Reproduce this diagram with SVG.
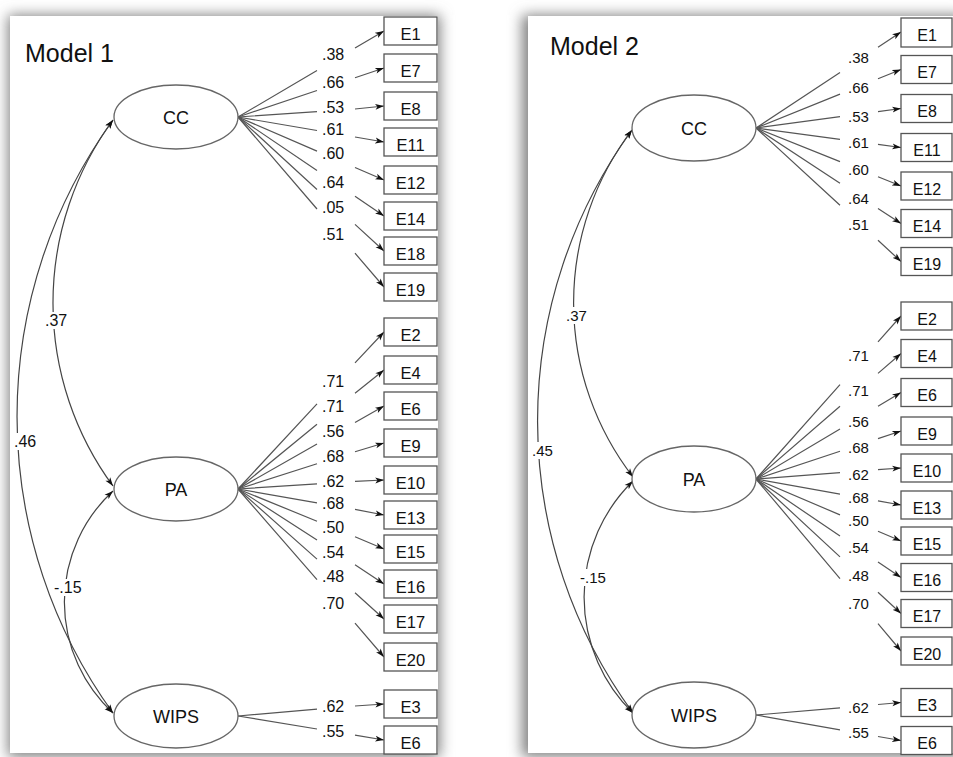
<svg xmlns="http://www.w3.org/2000/svg" width="953" height="757" viewBox="0 0 953 757">
<style>
text{font-family:"Liberation Sans",Arial,sans-serif;fill:#111}
.title{font-size:25px}
.lbl{font-size:16px}
.lbl2{font-size:15px}
.nm{font-size:18px;text-anchor:middle}
.bx{font-size:16.5px;text-anchor:middle}
.bx2{font-size:16px;text-anchor:middle}
.lat{fill:#fff;stroke:#666;stroke-width:1.3}
.obs{fill:#fff;stroke:#555;stroke-width:1.3}
.ln{fill:none;stroke:#555;stroke-width:1.2;marker-end:url(#ah)}
.cv{fill:none;stroke:#444;stroke-width:1.2;marker-start:url(#ah);marker-end:url(#ah)}
.bg{fill:#fff}
</style>
<defs>
<marker id="ah" viewBox="0 0 10 8" refX="10" refY="4" markerWidth="9" markerHeight="7" markerUnits="userSpaceOnUse" orient="auto-start-reverse">
<path d="M0,0.6 L10,4 L0,7.4 L2.5,4 z" fill="#111"/>
</marker>
<filter id="sh" x="-10%" y="-10%" width="120%" height="120%">
<feGaussianBlur stdDeviation="7"/>
</filter>
</defs>
<rect x="0" y="0" width="953" height="757" fill="#fff"/>
<!-- panels -->
<g id="panel1">
<rect x="8" y="15" width="432" height="742" fill="#808080" filter="url(#sh)"/>
<rect x="10" y="16" width="428" height="737" fill="#fff"/>
</g>
<g id="panel2">
<rect x="522" y="15" width="442" height="742" fill="#808080" filter="url(#sh)"/>
<rect x="528" y="16" width="430" height="737" fill="#fff"/>
</g>

<!-- ================= MODEL 1 ================= -->
<text class="title" x="25" y="62">Model 1</text>
<g id="m1-connectors">
<path class="ln" d="M238,117 L317,70.5 M355,48.1 L384,31"/>
<path class="ln" d="M238,117 L317,90.5 M355,77.7 L384,68"/>
<path class="ln" d="M238,117 L317,111.6 M355,109 L384,106"/>
<path class="ln" d="M238,117 L317,130.5 M355,137 L384,142"/>
<path class="ln" d="M238,117 L317,151.1 M355,167.5 L384,180"/>
<path class="ln" d="M238,117 L317,170.6 M355,196.3 L384,216"/>
<path class="ln" d="M238,117 L317,189.5 M355,224.4 L384,251"/>
<path class="ln" d="M238,117 L317,209 M355,253.2 L384,287"/>
<path class="ln" d="M238,489 L317,403.8 M355,362.8 L384,332"/>
<path class="ln" d="M238,489 L317,424.3 M355,393.2 L384,370"/>
<path class="ln" d="M238,489 L317,444.1 M355,422.5 L384,406"/>
<path class="ln" d="M238,489 L317,463.8 M355,451.7 L384,443"/>
<path class="ln" d="M238,489 L317,483.9 M355,481.4 L384,480"/>
<path class="ln" d="M238,489 L317,502.8 M355,509.4 L384,515"/>
<path class="ln" d="M238,489 L317,521.2 M355,536.7 L384,549"/>
<path class="ln" d="M238,489 L317,540.1 M355,564.7 L384,584"/>
<path class="ln" d="M238,489 L317,559.1 M355,592.8 L384,619"/>
<path class="ln" d="M238,489 L317,579.6 M355,623.2 L384,657"/>
<path class="ln" d="M238,716 L317,709.2 M355,706 L384,704"/>
<path class="ln" d="M238,716 L317,729 M355,735.2 L384,740"/>
<path class="cv" d="M113,120 A309,309 0 0,0 113,486"/>
<path class="cv" d="M113,120 A506,506 0 0,0 113,713"/>
<path class="cv" d="M113,491 A151,151 0 0,0 113,713"/>
<rect class="bg" x="44" y="312" width="25" height="17"/>
<rect class="bg" x="13" y="433" width="26" height="17"/>
<rect class="bg" x="53" y="579" width="31" height="17"/>
<text class="lbl" x="45" y="326">.37</text>
<text class="lbl" x="14" y="447">.46</text>
<text class="lbl" x="54" y="593">-.15</text>
</g>
<g id="m1-loadings">
<text class="lbl" x="322" y="60">.38</text>
<text class="lbl" x="322" y="88">.66</text>
<text class="lbl" x="322" y="113">.53</text>
<text class="lbl" x="322" y="135">.61</text>
<text class="lbl" x="322" y="159">.60</text>
<text class="lbl" x="322" y="188">.64</text>
<text class="lbl" x="322" y="213">.05</text>
<text class="lbl" x="322" y="240">.51</text>
<text class="lbl" x="322" y="387">.71</text>
<text class="lbl" x="322" y="412">.71</text>
<text class="lbl" x="322" y="437">.56</text>
<text class="lbl" x="322" y="462">.68</text>
<text class="lbl" x="322" y="487">.62</text>
<text class="lbl" x="322" y="509">.68</text>
<text class="lbl" x="322" y="533">.50</text>
<text class="lbl" x="322" y="558">.54</text>
<text class="lbl" x="322" y="582">.48</text>
<text class="lbl" x="322" y="609">.70</text>
<text class="lbl" x="322" y="712">.62</text>
<text class="lbl" x="322" y="737">.55</text>
</g>
<g id="m1-CC"><ellipse class="lat" cx="176" cy="117" rx="62" ry="32"/><text class="nm" x="176" y="124">CC</text></g>
<g id="m1-PA"><ellipse class="lat" cx="176" cy="489" rx="62" ry="32"/><text class="nm" x="176" y="496">PA</text></g>
<g id="m1-WIPS"><ellipse class="lat" cx="176" cy="716" rx="62" ry="32"/><text class="nm" x="176" y="723">WIPS</text></g>
<g id="m1-E1"><rect class="obs" x="384" y="17" width="53" height="28"/><text class="bx" x="410.5" y="39.5">E1</text></g>
<g id="m1-E7"><rect class="obs" x="384" y="54" width="53" height="28"/><text class="bx" x="410.5" y="76.5">E7</text></g>
<g id="m1-E8"><rect class="obs" x="384" y="92" width="53" height="28"/><text class="bx" x="410.5" y="114.5">E8</text></g>
<g id="m1-E11"><rect class="obs" x="384" y="128" width="53" height="28"/><text class="bx" x="410.5" y="150.5">E11</text></g>
<g id="m1-E12"><rect class="obs" x="384" y="166" width="53" height="28"/><text class="bx" x="410.5" y="188.5">E12</text></g>
<g id="m1-E14"><rect class="obs" x="384" y="202" width="53" height="28"/><text class="bx" x="410.5" y="224.5">E14</text></g>
<g id="m1-E18"><rect class="obs" x="384" y="237" width="53" height="28"/><text class="bx" x="410.5" y="259.5">E18</text></g>
<g id="m1-E19"><rect class="obs" x="384" y="273" width="53" height="28"/><text class="bx" x="410.5" y="295.5">E19</text></g>
<g id="m1-E2"><rect class="obs" x="384" y="318" width="53" height="28"/><text class="bx" x="410.5" y="340.5">E2</text></g>
<g id="m1-E4"><rect class="obs" x="384" y="356" width="53" height="28"/><text class="bx" x="410.5" y="378.5">E4</text></g>
<g id="m1-E6a"><rect class="obs" x="384" y="392" width="53" height="28"/><text class="bx" x="410.5" y="414.5">E6</text></g>
<g id="m1-E9"><rect class="obs" x="384" y="429" width="53" height="28"/><text class="bx" x="410.5" y="451.5">E9</text></g>
<g id="m1-E10"><rect class="obs" x="384" y="466" width="53" height="28"/><text class="bx" x="410.5" y="488.5">E10</text></g>
<g id="m1-E13"><rect class="obs" x="384" y="501" width="53" height="28"/><text class="bx" x="410.5" y="523.5">E13</text></g>
<g id="m1-E15"><rect class="obs" x="384" y="535" width="53" height="28"/><text class="bx" x="410.5" y="557.5">E15</text></g>
<g id="m1-E16"><rect class="obs" x="384" y="570" width="53" height="28"/><text class="bx" x="410.5" y="592.5">E16</text></g>
<g id="m1-E17"><rect class="obs" x="384" y="605" width="53" height="28"/><text class="bx" x="410.5" y="627.5">E17</text></g>
<g id="m1-E20"><rect class="obs" x="384" y="643" width="53" height="28"/><text class="bx" x="410.5" y="665.5">E20</text></g>
<g id="m1-E3"><rect class="obs" x="384" y="690" width="53" height="28"/><text class="bx" x="410.5" y="712.5">E3</text></g>
<g id="m1-E6b"><rect class="obs" x="384" y="726" width="53" height="28"/><text class="bx" x="410.5" y="748.5">E6</text></g>

<!-- ================= MODEL 2 ================= -->
<text class="title" x="550" y="55">Model 2</text>
<g id="m2-connectors">
<path class="ln" d="M756,128 L840,72.4 M878,47.2 L901,32"/>
<path class="ln" d="M756,128 L840,94.1 M878,78.8 L901,69.5"/>
<path class="ln" d="M756,128 L840,116.7 M878,111.6 L901,108.5"/>
<path class="ln" d="M756,128 L840,139.3 M878,144.4 L901,147.5"/>
<path class="ln" d="M756,128 L840,161.6 M878,176.8 L901,186"/>
<path class="ln" d="M756,128 L840,183.3 M878,208.4 L901,223.5"/>
<path class="ln" d="M756,128 L840,205.3 M878,240.3 L901,261.5"/>
<path class="ln" d="M756,479 L840,384.6 M878,341.9 L901,316"/>
<path class="ln" d="M756,479 L840,406.3 M878,373.4 L901,353.5"/>
<path class="ln" d="M756,479 L840,428.9 M878,406.2 L901,392.5"/>
<path class="ln" d="M756,479 L840,451.2 M878,438.6 L901,431"/>
<path class="ln" d="M756,479 L840,472.6 M878,469.7 L901,468"/>
<path class="ln" d="M756,479 L840,494.1 M878,500.9 L901,505"/>
<path class="ln" d="M756,479 L840,514.9 M878,531.2 L901,541"/>
<path class="ln" d="M756,479 L840,536.1 M878,561.9 L901,577.5"/>
<path class="ln" d="M756,479 L840,556.9 M878,592.2 L901,613.5"/>
<path class="ln" d="M756,479 L840,578.6 M878,623.7 L901,651"/>
<path class="ln" d="M756,715 L840,707.8 M878,704.5 L901,702.5"/>
<path class="ln" d="M756,715 L840,729.8 M878,736.5 L901,740.5"/>
<path class="cv" d="M632,130 A285,285 0 0,0 633,477"/>
<path class="cv" d="M632,130 A495,495 0 0,0 633,713"/>
<path class="cv" d="M633,481 A162,162 0 0,0 633,713"/>
<rect class="bg" x="565" y="307" width="25" height="17"/>
<rect class="bg" x="531" y="442" width="23" height="17"/>
<rect class="bg" x="579" y="569" width="30" height="17"/>
<text class="lbl2" x="566" y="321">.37</text>
<text class="lbl2" x="532" y="456">.45</text>
<text class="lbl2" x="580" y="583">-.15</text>
</g>
<g id="m2-loadings">
<text class="lbl2" x="848" y="63">.38</text>
<text class="lbl2" x="848" y="93">.66</text>
<text class="lbl2" x="848" y="122">.53</text>
<text class="lbl2" x="848" y="148">.61</text>
<text class="lbl2" x="848" y="175">.60</text>
<text class="lbl2" x="848" y="204">.64</text>
<text class="lbl2" x="848" y="230">.51</text>
<text class="lbl2" x="848" y="361">.71</text>
<text class="lbl2" x="848" y="396">.71</text>
<text class="lbl2" x="848" y="427">.56</text>
<text class="lbl2" x="848" y="453">.68</text>
<text class="lbl2" x="848" y="480">.62</text>
<text class="lbl2" x="848" y="503">.68</text>
<text class="lbl2" x="848" y="526">.50</text>
<text class="lbl2" x="848" y="553">.54</text>
<text class="lbl2" x="848" y="581">.48</text>
<text class="lbl2" x="848" y="609">.70</text>
<text class="lbl2" x="848" y="713">.62</text>
<text class="lbl2" x="848" y="738">.55</text>
</g>
<g id="m2-CC"><ellipse class="lat" cx="694" cy="128" rx="62" ry="33"/><text class="nm" x="694" y="135">CC</text></g>
<g id="m2-PA"><ellipse class="lat" cx="694" cy="479" rx="62" ry="33"/><text class="nm" x="694" y="486">PA</text></g>
<g id="m2-WIPS"><ellipse class="lat" cx="694" cy="715" rx="62" ry="33"/><text class="nm" x="694" y="722">WIPS</text></g>
<g id="m2-E1"><rect class="obs" x="901" y="18" width="51" height="29"/><text class="bx2" x="927" y="41">E1</text></g>
<g id="m2-E7"><rect class="obs" x="901" y="55.5" width="51" height="28"/><text class="bx2" x="927" y="78">E7</text></g>
<g id="m2-E8"><rect class="obs" x="901" y="94.5" width="51" height="28"/><text class="bx2" x="927" y="117">E8</text></g>
<g id="m2-E11"><rect class="obs" x="901" y="133.5" width="51" height="28"/><text class="bx2" x="927" y="156">E11</text></g>
<g id="m2-E12"><rect class="obs" x="901" y="172" width="51" height="28"/><text class="bx2" x="927" y="194.5">E12</text></g>
<g id="m2-E14"><rect class="obs" x="901" y="209.5" width="51" height="28"/><text class="bx2" x="927" y="232">E14</text></g>
<g id="m2-E19"><rect class="obs" x="901" y="247.5" width="51" height="28"/><text class="bx2" x="927" y="270">E19</text></g>
<g id="m2-E2"><rect class="obs" x="901" y="302" width="51" height="28"/><text class="bx2" x="927" y="324.5">E2</text></g>
<g id="m2-E4"><rect class="obs" x="901" y="339.5" width="51" height="28"/><text class="bx2" x="927" y="362">E4</text></g>
<g id="m2-E6a"><rect class="obs" x="901" y="378.5" width="51" height="28"/><text class="bx2" x="927" y="401">E6</text></g>
<g id="m2-E9"><rect class="obs" x="901" y="417" width="51" height="28"/><text class="bx2" x="927" y="439.5">E9</text></g>
<g id="m2-E10"><rect class="obs" x="901" y="454" width="51" height="28"/><text class="bx2" x="927" y="476.5">E10</text></g>
<g id="m2-E13"><rect class="obs" x="901" y="491" width="51" height="28"/><text class="bx2" x="927" y="513.5">E13</text></g>
<g id="m2-E15"><rect class="obs" x="901" y="527" width="51" height="28"/><text class="bx2" x="927" y="549.5">E15</text></g>
<g id="m2-E16"><rect class="obs" x="901" y="563.5" width="51" height="28"/><text class="bx2" x="927" y="586">E16</text></g>
<g id="m2-E17"><rect class="obs" x="901" y="599.5" width="51" height="28"/><text class="bx2" x="927" y="622">E17</text></g>
<g id="m2-E20"><rect class="obs" x="901" y="637" width="51" height="28"/><text class="bx2" x="927" y="659.5">E20</text></g>
<g id="m2-E3"><rect class="obs" x="901" y="688.5" width="51" height="28"/><text class="bx2" x="927" y="711">E3</text></g>
<g id="m2-E6b"><rect class="obs" x="901" y="726.5" width="51" height="28"/><text class="bx2" x="927" y="749">E6</text></g>
</svg>
